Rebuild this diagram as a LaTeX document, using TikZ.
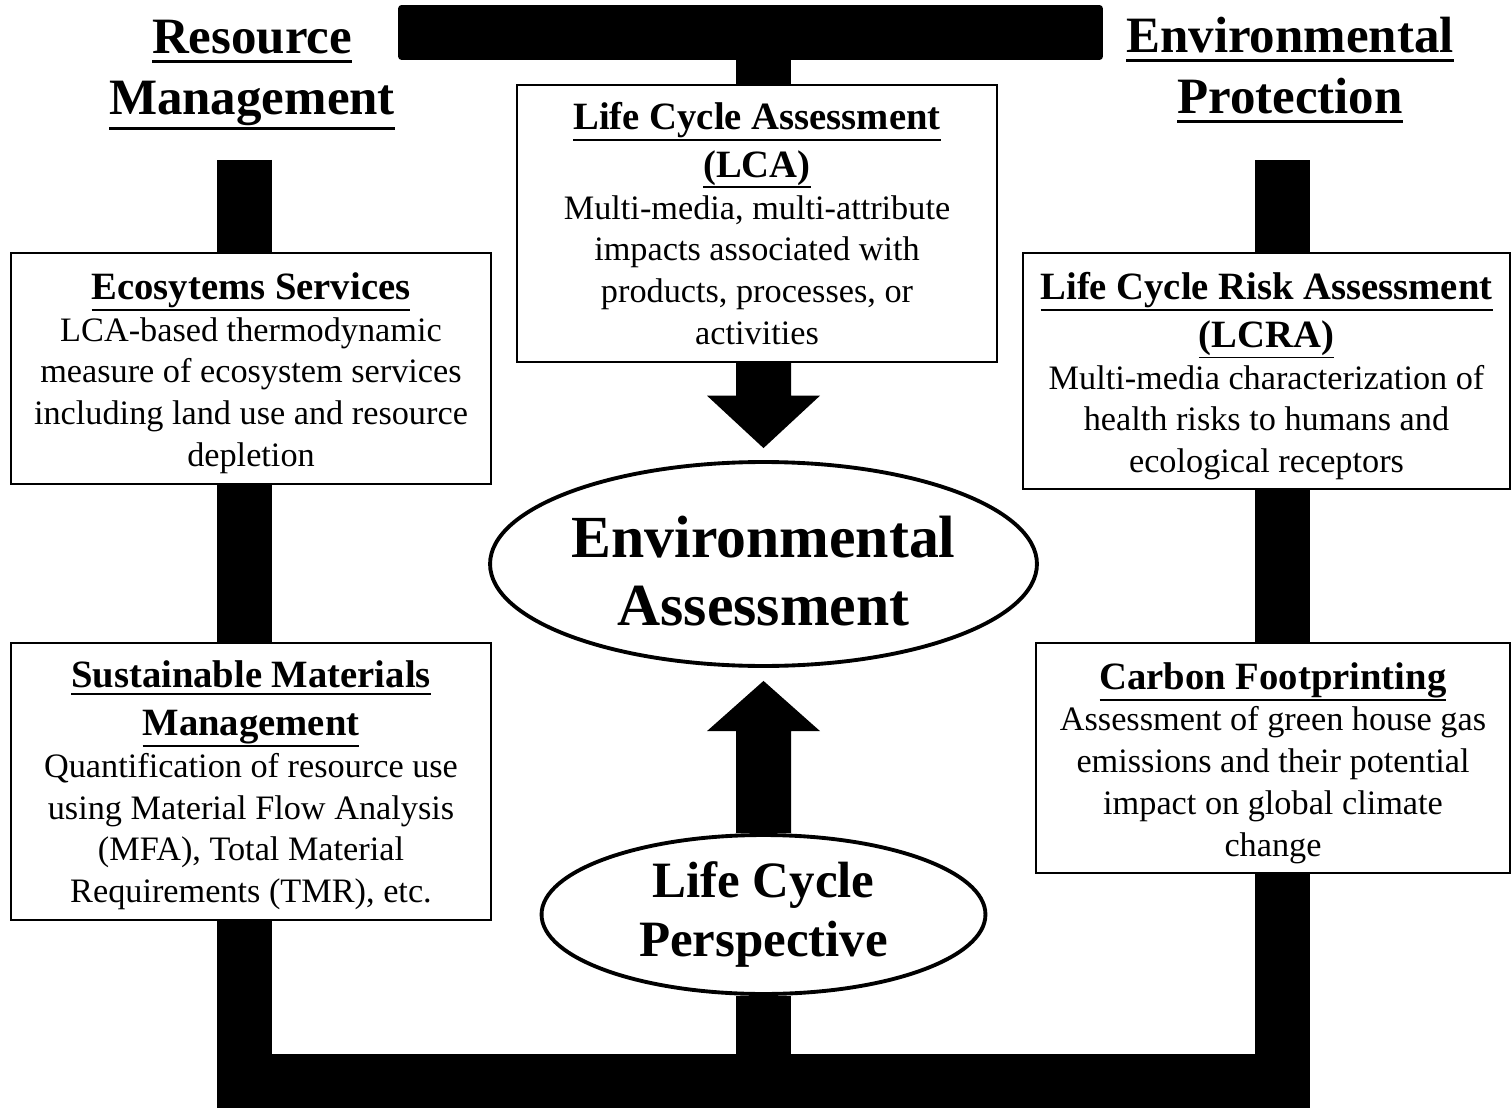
\documentclass[tikz,border=0pt]{standalone}
\usepackage{fontspec}
\setmainfont{Liberation Serif}
\usepackage{tikz}
\usetikzlibrary{calc, backgrounds, shapes.geometric}
\newcommand{\bodysize}{\fontsize{19.5}{23.8}\selectfont}
% underline with a fixed minimum drop below the baseline
\newcommand{\undl}[2]{%
  \setbox0=\hbox{#2}%
  \dimen0=\dp0 \ifdim\dimen0<0.11em \dimen0=0.11em\fi
  \rlap{\rule[\dimexpr-\dimen0-#1-0.6pt\relax]{\wd0}{#1}}\box0}
\newcommand{\boxhead}[1]{{\fontsize{22}{27}\selectfont\bfseries\undl{1.1pt}{#1}}}
\tikzset{
  infobox/.style={rectangle, draw=black, fill=white, line width=0.8pt,
                  minimum width=#1, inner sep=0pt, align=center,
                  font=\bodysize},
  infobox/.default=9.6cm,
  bar/.style={draw=black, line width=1.1cm, line join=miter},
  bubble/.style={ellipse, draw=black, fill=white, line width=2.2pt,
                 inner sep=0pt, align=center},
  pillar/.style={align=center, font=\fontsize{29}{35}\selectfont\bfseries},
}

\begin{document}
\begin{tikzpicture}[x=0.02cm, y=-0.02cm]
\useasboundingbox (0,0) rectangle (1511,1108);

% pillar headings
\node[pillar] (resource) at (252,75) {\undl{1.8pt}{Resource}\\ \undl{1.8pt}{Management}};
\node[pillar] (protection) at (1290,70) {\undl{1.8pt}{Environmental}\\ \undl{1.8pt}{Protection}};

% top hub
\node[fill=black, rounded corners=2pt, minimum width=14.1cm, minimum height=1.1cm,
      inner sep=0pt] (hub) at (750.5,32.5) {};

% assessment boxes
\node[infobox, minimum height=5.54cm] (lca) at (757,223.5)
  {\boxhead{Life Cycle Assessment}\\[3.4pt] \boxhead{(LCA)}\\
   Multi-media, multi-attribute\\ impacts associated with\\
   products, processes, or\\ activities};
\node[infobox, minimum height=4.62cm] (eco) at (251,368.5)
  {\rule{0pt}{20.6pt}\boxhead{Ecosytems Services}\\
   LCA-based thermodynamic\\ measure of ecosystem services\\
   including land use and resource\\ depletion};
\node[infobox, minimum height=5.54cm] (smm) at (251,781.5)
  {\rule{0pt}{19.7pt}\boxhead{Sustainable Materials}\\[3.4pt] \boxhead{Management}\\
   Quantification of resource use\\ using Material Flow Analysis\\
   (MFA), Total Material\\ Requirements (TMR), etc.};
\node[infobox=9.74cm, minimum height=4.72cm] (lcra) at (1266.5,371)
  {\rule{0pt}{21.4pt}\boxhead{Life Cycle Risk Assessment}\\[3.4pt] \boxhead{(LCRA)}\\
   Multi-media characterization of\\ health risks to humans and\\
   ecological receptors};
\node[infobox=9.48cm, minimum height=4.6cm] (carbon) at (1273,758)
  {\rule{0pt}{20.9pt}\boxhead{Carbon Footprinting}\\
   Assessment of green house gas\\ emissions and their potential\\
   impact on global climate\\ change};

% central ellipses
\node[bubble, minimum width=10.94cm, minimum height=4.08cm,
      font=\fontsize{34}{38.6}\selectfont\bfseries] (env) at (763.5,564)
  {\rule{0pt}{31.5pt}Environmental\\ Assessment};
\node[bubble, minimum width=8.88cm, minimum height=3.18cm,
      font=\fontsize{29}{34}\selectfont\bfseries] (lcp) at (763.5,914.5)
  {Life Cycle\\ Perspective};

\coordinate (ltop) at (244.5,160);
\coordinate (rtop) at (1282.5,160);
\coordinate (base) at (763.5,1081.5);
\coordinate (dn) at (env |- lca.south);
\coordinate (up) at (lcp.north);

\begin{scope}[on background layer]
  % frame bars
  \draw[bar] (ltop) -- (ltop |- base) -- (rtop |- base) -- (rtop);
  \draw[bar] (lcp) -- (base);
  \draw[bar] (env |- hub) -- (env |- lca.north);
  % block arrows into the ellipse
  \fill ($(dn)+(-27.5,0)$) -- ($(dn)+(27.5,0)$) -- ($(dn)+(27.5,33)$)
    -- ($(dn)+(56.5,33)$) -- ($(env.north)+(0,-12)$) -- ($(dn)+(-56.5,33)$)
    -- ($(dn)+(-27.5,33)$) -- cycle;
  \fill ($(up)+(-27.5,0)$) -- ($(up)+(-27.5,-102)$) -- ($(up)+(-56.5,-102)$)
    -- ($(env.south)+(0,13)$) -- ($(up)+(56.5,-102)$) -- ($(up)+(27.5,-102)$)
    -- ($(up)+(27.5,0)$) -- cycle;
\end{scope}
\end{tikzpicture}
\end{document}
